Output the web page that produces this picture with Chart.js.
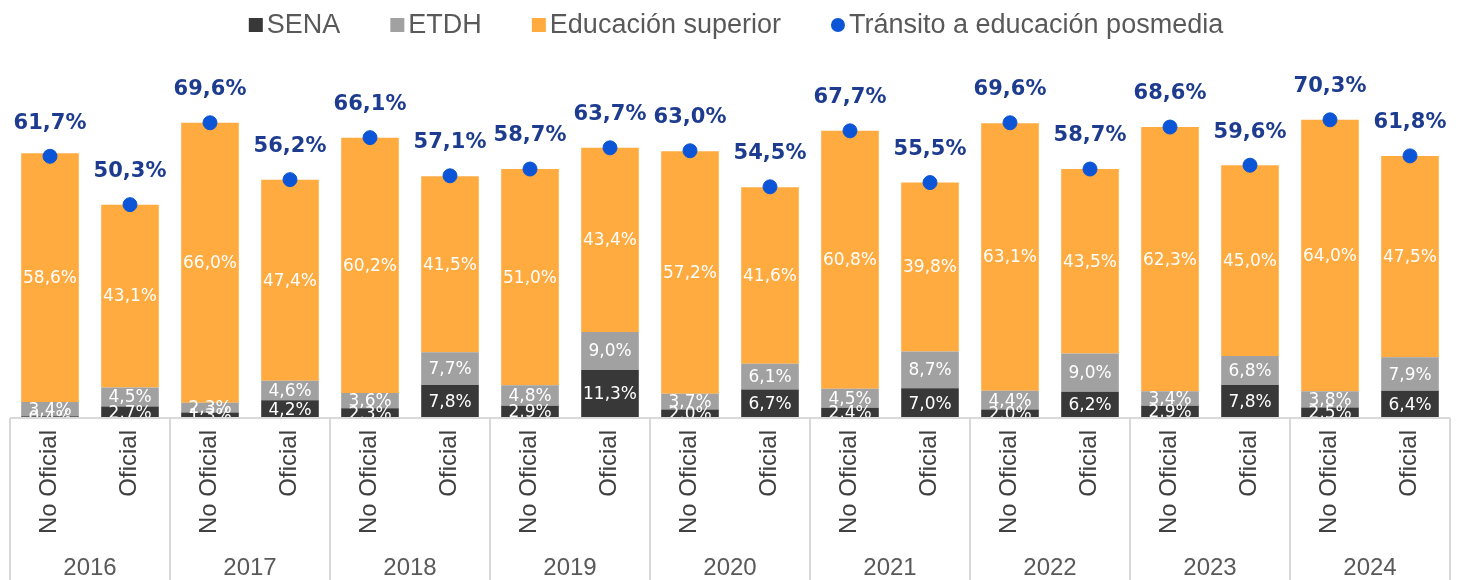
<!DOCTYPE html>
<html lang="es">
<head>
  <meta charset="UTF-8" />
  <title>Tránsito a educación posmedia</title>
  <script src="https://cdn.jsdelivr.net/npm/chart.js"></script>
  <style>
    html, body { margin: 0; padding: 0; background: #fff; }
    .chart-box { width: 1459px; height: 580px; position: relative; }
  </style>
</head>
<body>
  <div class="chart-box">
    <canvas id="posmediaChart"></canvas>
  </div>

  <script>
    const years = ['2016', '2017', '2018', '2019', '2020', '2021', '2022', '2023', '2024'];
    const sectors = ['No Oficial', 'Oficial'];

    const sena      = [0.4, 2.7, 1.3, 4.2, 2.3, 7.8, 2.9, 11.3, 2.0, 6.7, 2.4, 7.0, 2.0, 6.2, 2.9, 7.8, 2.5, 6.4];
    const etdh      = [3.4, 4.5, 2.3, 4.6, 3.6, 7.7, 4.8, 9.0, 3.7, 6.1, 4.5, 8.7, 4.4, 9.0, 3.4, 6.8, 3.8, 7.9];
    const superior  = [58.6, 43.1, 66.0, 47.4, 60.2, 41.5, 51.0, 43.4, 57.2, 41.6, 60.8, 39.8, 63.1, 43.5, 62.3, 45.0, 64.0, 47.5];
    const transito  = [61.7, 50.3, 69.6, 56.2, 66.1, 57.1, 58.7, 63.7, 63.0, 54.5, 67.7, 55.5, 69.6, 58.7, 68.6, 59.6, 70.3, 61.8];

    const labels = [];
    years.forEach(y => sectors.forEach(s => labels.push(s)));

    const pct = v => v.toFixed(1).replace('.', ',') + '%';

    // data labels for bar segments and the blue dots
    const valueLabels = {
      id: 'valueLabels',
      afterDatasetsDraw(chart) {
        const ctx = chart.ctx;
        ctx.save();
        ctx.textAlign = 'center';
        ctx.textBaseline = 'middle';
        chart.data.datasets.forEach((ds, i) => {
          const meta = chart.getDatasetMeta(i);
          meta.data.forEach((el, j) => {
            if (ds.type === 'line') {
              ctx.fillStyle = '#1d3b8f';
              ctx.font = 'bold 21px "DejaVu Sans"';
              ctx.fillText(pct(ds.data[j]), el.x, el.y - 33);
            } else {
              ctx.fillStyle = '#ffffff';
              ctx.font = '17px "DejaVu Sans"';
              ctx.fillText(pct(ds.data[j]), el.x, (el.y + el.base) / 2 + 1);
            }
          });
        });
        ctx.restore();
      }
    };

    // legend drawn by hand so the spacing matches
    const topLegend = {
      id: 'topLegend',
      afterDraw(chart) {
        const ctx = chart.ctx;
        const items = chart.data.datasets.slice(1).concat(chart.data.datasets[0]);
        ctx.save();
        ctx.font = '27px "Liberation Sans"';
        ctx.textBaseline = 'middle';
        ctx.textAlign = 'left';
        const box = 14, gapIn = 4, gapOut = 50;
        const widths = items.map(d => ctx.measureText(d.label).width);
        const total = widths.reduce((a, w) => a + box + gapIn + w, 0) + gapOut * (items.length - 1);
        let x = 736 - total / 2;
        const y = 25;
        items.forEach((d, i) => {
          ctx.fillStyle = d.backgroundColor;
          if (d.type === 'line') {
            ctx.beginPath();
            ctx.arc(x + box / 2, y, box / 2, 0, Math.PI * 2);
            ctx.fill();
          } else {
            ctx.fillRect(x, y - box / 2, box, box);
          }
          x += box + gapIn;
          ctx.fillStyle = '#595959';
          ctx.fillText(d.label, x, y + 1);
          x += widths[i] + gapOut;
        });
        ctx.restore();
      }
    };

    // table-like category axis: No Oficial / Oficial and years
    const groupAxis = {
      id: 'groupAxis',
      afterDraw(chart) {
        const ctx = chart.ctx;
        const x = chart.scales.x;
        const area = chart.chartArea;
        const bottom = chart.height;
        const step = x.getPixelForValue(1) - x.getPixelForValue(0);
        ctx.save();
        ctx.strokeStyle = '#d9d9d9';
        ctx.lineWidth = 2;
        ctx.beginPath();
        ctx.moveTo(area.left, area.bottom);
        ctx.lineTo(area.right, area.bottom);
        for (let g = 0; g <= years.length; g++) {
          const px = x.getPixelForValue(g * 2) - step / 2;
          ctx.moveTo(px, area.bottom);
          ctx.lineTo(px, bottom);
        }
        ctx.stroke();

        ctx.fillStyle = '#404040';
        ctx.font = '24px "Liberation Sans"';
        ctx.textBaseline = 'middle';
        ctx.textAlign = 'right';
        labels.forEach((lab, i) => {
          const px = x.getPixelForValue(i);
          ctx.save();
          ctx.translate(px - 1, area.bottom + 12);
          ctx.rotate(-Math.PI / 2);
          ctx.fillText(lab, 0, 0);
          ctx.restore();
        });

        ctx.fillStyle = '#595959';
        ctx.textAlign = 'center';
        years.forEach((y, g) => {
          const px = (x.getPixelForValue(g * 2) + x.getPixelForValue(g * 2 + 1)) / 2;
          ctx.fillText(y, px, bottom - 12);
        });
        ctx.restore();
      }
    };

    const ctx = document.getElementById('posmediaChart').getContext('2d');
    new Chart(ctx, {
      type: 'bar',
      data: {
        labels: labels,
        datasets: [
          {
            type: 'line',
            label: 'Tránsito a educación posmedia',
            data: transito,
            stack: 'total',
            showLine: false,
            pointRadius: 7,
            pointBackgroundColor: '#0b55d6',
            pointBorderColor: '#0b55d6',
            backgroundColor: '#0b55d6',
            borderColor: '#0b55d6',
            order: 0
          },
          {
            label: 'SENA',
            data: sena,
            backgroundColor: '#383838',
            stack: 'bars',
            order: 1
          },
          {
            label: 'ETDH',
            data: etdh,
            backgroundColor: '#a1a1a1',
            stack: 'bars',
            order: 1
          },
          {
            label: 'Educación superior',
            data: superior,
            backgroundColor: '#ffab40',
            stack: 'bars',
            order: 1
          }
        ]
      },
      options: {
        responsive: true,
        maintainAspectRatio: false,
        animation: false,
        layout: { padding: { left: 10, right: 9, top: 49, bottom: 162 } },
        datasets: { bar: { categoryPercentage: 1, barPercentage: 0.72 } },
        plugins: {
          tooltip: { enabled: false },
          legend: { display: false }
        },
        scales: {
          x: { stacked: true, display: false },
          y: { stacked: true, display: false, min: 0, max: 87 }
        }
      },
      plugins: [valueLabels, groupAxis, topLegend]
    });
  </script>
</body>
</html>
